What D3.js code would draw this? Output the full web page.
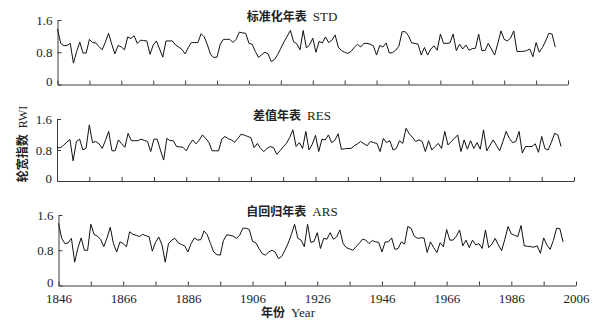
<!DOCTYPE html>
<html>
<head>
<meta charset="utf-8">
<script src="https://cdn.jsdelivr.net/npm/d3@7"></script>
<style>
  html, body { margin: 0; padding: 0; background: #fff; }
  svg { display: block; }
  .serif { font-family: "Liberation Serif", "Times New Roman", serif; }
  .cjk { font-family: "Noto Sans CJK SC", sans-serif; font-weight: 700; }
</style>
</head>
<body>
<svg id="chart" width="607" height="323"></svg>
<script>
'use strict';

// ring-width chronologies, one value per year starting at 1846
const startYear = 1846;

const stdValues = [
  1.38, 1.02, 0.96, 0.97, 1.02, 0.53, 0.82, 1.05, 0.78, 0.78,
  1.12, 1.04, 1.03, 0.94, 0.86, 1.05, 1.27, 1.00, 0.76, 0.97,
  0.93, 0.86, 1.18, 1.14, 1.21, 1.02, 1.10, 1.09, 1.08, 0.75,
  0.98, 1.08, 0.88, 0.68, 1.08, 1.08, 1.08, 0.98, 0.93, 0.87,
  0.76, 0.92, 1.04, 1.04, 1.04, 1.26, 1.18, 0.98, 0.74, 0.67,
  0.68, 1.00, 1.12, 1.12, 1.12, 1.04, 1.12, 1.30, 1.28, 1.27,
  1.02, 1.00, 0.82, 0.67, 0.74, 0.80, 0.76, 0.57, 0.62, 0.74,
  0.90, 1.06, 1.20, 1.34, 1.06, 1.01, 0.86, 1.34, 0.91, 0.98,
  1.15, 0.80, 1.07, 1.03, 1.18, 1.04, 1.10, 1.23, 0.93, 0.84,
  0.80, 0.77, 0.82, 0.92, 1.00, 0.93, 1.02, 1.02, 1.00, 0.96,
  0.73, 0.97, 0.93, 1.03, 0.78, 0.79, 0.85, 0.95, 1.31, 1.31,
  1.21, 1.03, 1.02, 1.00, 0.73, 0.92, 0.73, 0.88, 0.96, 0.85,
  1.25, 1.02, 1.02, 1.03, 1.25, 0.84, 1.00, 0.88, 0.98, 0.85,
  0.89, 0.90, 1.25, 0.84, 0.84, 1.02, 0.88, 0.73, 1.02, 1.33,
  1.12, 1.08, 1.15, 1.33, 0.82, 0.82, 0.82, 0.84, 0.88, 0.69,
  1.04, 0.80, 0.92, 1.08, 1.27, 1.25, 0.93
];

const resValues = [
  0.86, 0.86, 0.92, 1.00, 1.07, 0.52, 1.02, 1.08, 0.80, 0.85,
  1.45, 0.99, 1.02, 0.96, 0.84, 1.05, 1.28, 0.78, 0.78, 1.06,
  0.96, 0.87, 1.23, 1.04, 1.04, 1.04, 1.08, 1.05, 1.02, 0.76,
  1.08, 1.08, 0.80, 0.54, 1.10, 1.04, 1.04, 0.89, 0.88, 0.87,
  0.78, 0.94, 1.06, 0.96, 1.05, 1.19, 1.10, 1.00, 0.78, 0.78,
  0.78, 1.08, 1.15, 1.09, 1.06, 1.00, 1.10, 1.21, 1.18, 1.15,
  1.12, 0.86, 0.97, 0.84, 0.76, 0.84, 0.89, 0.86, 0.69, 0.78,
  0.88, 0.97, 1.12, 1.32, 0.89, 0.99, 0.84, 1.28, 0.80, 0.95,
  1.18, 0.76, 1.08, 1.06, 1.19, 0.99, 1.05, 1.22, 0.82, 0.83,
  0.84, 0.84, 0.91, 0.96, 1.02, 0.96, 0.91, 1.02, 0.99, 0.97,
  0.76, 1.10, 0.99, 1.04, 0.80, 0.84, 1.04, 0.97, 1.36, 1.22,
  1.13, 1.02, 1.06, 1.02, 0.76, 1.04, 0.80, 0.89, 0.97, 0.84,
  1.28, 0.93, 1.02, 1.10, 1.19, 0.76, 1.06, 0.82, 1.04, 0.84,
  0.99, 0.82, 1.32, 0.78, 0.92, 1.06, 0.92, 0.78, 1.02, 1.28,
  1.10, 0.99, 1.02, 1.28, 0.72, 0.89, 0.89, 0.89, 0.96, 0.74,
  1.15, 0.84, 0.80, 1.00, 1.23, 1.19, 0.89
];

const arsValues = [
  1.41, 1.07, 0.95, 0.97, 1.07, 0.53, 0.85, 1.08, 0.80, 0.80,
  1.39, 1.16, 1.12, 1.05, 0.88, 1.08, 1.32, 0.95, 0.76, 0.99,
  0.95, 0.88, 1.22, 1.16, 1.14, 1.11, 1.16, 1.13, 1.11, 0.78,
  0.98, 1.10, 0.92, 0.53, 0.95, 1.03, 1.07, 0.97, 0.93, 0.90,
  0.76, 0.95, 1.08, 1.03, 1.04, 1.24, 1.15, 0.95, 0.76, 0.70,
  0.69, 1.02, 1.15, 1.14, 1.12, 1.07, 1.14, 1.30, 1.30, 1.27,
  1.00, 0.97, 0.84, 0.72, 0.69, 0.76, 0.80, 0.76, 0.61, 0.66,
  0.80, 0.96, 1.16, 1.39, 1.07, 1.03, 0.88, 1.39, 0.98, 1.00,
  1.20, 0.84, 1.07, 1.05, 1.20, 1.05, 1.10, 1.26, 0.95, 0.86,
  0.83, 0.80, 0.88, 0.96, 1.05, 1.03, 0.95, 1.02, 0.99, 0.98,
  0.76, 0.99, 0.99, 1.08, 0.82, 0.84, 0.99, 0.94, 1.34, 1.30,
  1.12, 1.07, 1.08, 1.08, 0.75, 0.99, 0.86, 0.75, 0.97, 0.88,
  1.27, 1.03, 1.03, 1.12, 1.26, 0.90, 1.03, 0.86, 1.03, 0.92,
  0.95, 0.84, 1.26, 0.86, 0.94, 1.07, 0.92, 0.79, 1.05, 1.34,
  1.17, 1.14, 1.11, 1.36, 0.90, 0.89, 0.88, 0.87, 0.90, 0.73,
  1.08, 0.92, 0.82, 1.02, 1.30, 1.29, 0.99
];

const panelTitles = ['标准化年表', '差值年表', '自回归年表'];
const panelCodes = ['STD', 'RES', 'ARS'];
const xTicks = [1846, 1856, 1866, 1876, 1886, 1896, 1906, 1916, 1926, 1936, 1946, 1956, 1966, 1976, 1986, 1996, 2006];
const xTickLabels = [1846, 1866, 1886, 1906, 1926, 1946, 1966, 1986, 2006];
const yTicks = [0, 0.8, 1.6];
const xDomain = [1846, 2006];
const yDomain = [0, 1.6];

// pixel boxes of the three panels (the scanned original is slightly uneven)
const layout = [
  { top: 20, bottom: 84.5, left: 57.5, right: 568 },
  { top: 119, bottom: 181, left: 57, right: 574 },
  { top: 215, bottom: 285.5, left: 58.5, right: 576 }
];

const series = [stdValues, resValues, arsValues];

const svg = d3.select('#chart');
const axisColor = '#3a3a3a';

function styleAxis(sel) {
  sel.select('.domain').attr('stroke', axisColor).attr('stroke-width', 1);
  sel.selectAll('.tick line').attr('stroke', axisColor).attr('stroke-width', 1);
  sel.selectAll('.tick text')
    .attr('class', 'serif')
    .attr('fill', '#222')
    .style('font-size', '13px');
}

series.forEach(function (values, i) {
  const box = layout[i];
  const x = d3.scaleLinear().domain(xDomain).range([box.left, box.right]);
  const y = d3.scaleLinear().domain(yDomain).range([box.bottom, box.top]);
  const isLast = i === series.length - 1;

  const xAxis = d3.axisBottom(x)
    .tickValues(xTicks)
    .tickSize(-4)
    .tickSizeOuter(0)
    .tickPadding(8)
    .tickFormat(function (d) {
      return isLast && xTickLabels.indexOf(d) >= 0 ? String(d) : '';
    });

  svg.append('g')
    .attr('transform', 'translate(0,' + box.bottom + ')')
    .call(xAxis)
    .call(styleAxis);

  const yAxis = d3.axisLeft(y)
    .tickValues(yTicks)
    .tickSize(-4)
    .tickSizeOuter(0)
    .tickPadding(5)
    .tickFormat(function (d) { return d === 0 ? '0' : d3.format('.1f')(d); });

  const yG = svg.append('g')
    .attr('transform', 'translate(' + box.left + ',0)')
    .call(yAxis)
    .call(styleAxis);
  // the zero label sits a little high in the original, clear of the year labels
  yG.selectAll('.tick text').filter(function (d) { return d === 0; }).attr('dy', '0.1em');

  const line = d3.line()
    .x(function (d, k) { return x(startYear + k); })
    .y(function (d) { return y(d); });

  svg.append('path')
    .datum(values)
    .attr('fill', 'none')
    .attr('stroke', '#111')
    .attr('stroke-width', 1)
    .attr('stroke-linejoin', 'miter')
    .attr('d', line);

  const title = svg.append('text')
    .attr('x', 292)
    .attr('y', box.top + 1)
    .attr('text-anchor', 'middle')
    .attr('fill', '#222');
  title.append('tspan').attr('class', 'cjk').style('font-size', '12px').text(panelTitles[i]);
  title.append('tspan').attr('class', 'serif').attr('dx', 6).style('font-size', '13px').text(panelCodes[i]);
});

// shared axis titles
const yLabel = svg.append('text')
  .attr('transform', 'translate(27,144) rotate(-90)')
  .attr('text-anchor', 'middle')
  .attr('fill', '#222');
yLabel.append('tspan').attr('class', 'cjk').style('font-size', '12px').text('轮宽指数');
yLabel.append('tspan').attr('class', 'serif').attr('dx', 6).style('font-size', '12px').text('RWI');

const xLabel = svg.append('text')
  .attr('x', 288)
  .attr('y', 317)
  .attr('text-anchor', 'middle')
  .attr('fill', '#222');
xLabel.append('tspan').attr('class', 'cjk').style('font-size', '12px').text('年份');
xLabel.append('tspan').attr('class', 'serif').attr('dx', 6).style('font-size', '13px').text('Year');
</script>
</body>
</html>
